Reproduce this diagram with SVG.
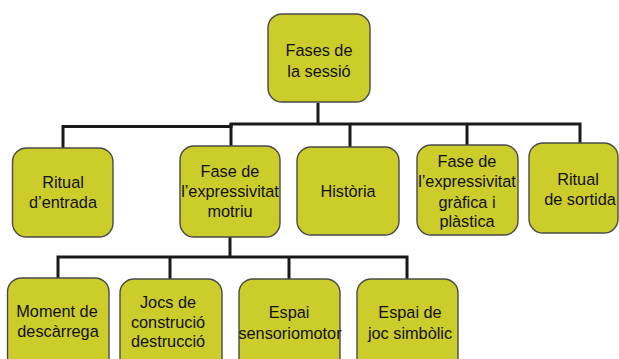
<svg xmlns="http://www.w3.org/2000/svg" width="619" height="359" viewBox="0 0 619 359">
<style>
.box{fill:#cccc2a;stroke:#4a4a4a;stroke-width:1.4}
.t{font-family:"Liberation Sans",Arial,sans-serif;font-size:16.3px;fill:#111;text-anchor:middle}
.c{fill:none;stroke:#1a1a1a;stroke-width:3;stroke-linejoin:miter;stroke-linecap:butt}
</style>
<rect width="619" height="359" fill="#fff"/>
<g id="connectors">
<path class="c" d="M63 148V126.5H231V124H580V143"/>
<path class="c" d="M318 103V124"/>
<path class="c" d="M231 124V146"/>
<path class="c" d="M350 124V147"/>
<path class="c" d="M467 124V145"/>
<path class="c" d="M58 278V257H407V279"/>
<path class="c" d="M230 237V257"/>
<path class="c" d="M170 257V279"/>
<path class="c" d="M289 257V279"/>
</g>
<g id="n-fases">
<rect class="box" x="268" y="14" width="102" height="88" rx="14"/>
<text class="t" x="319" y="56">Fases de</text>
<text class="t" x="319" y="77">la sessió</text>
</g>
<g id="n-ritual-entrada">
<rect class="box" x="12.5" y="148" width="100.5" height="89" rx="14"/>
<text class="t" x="63" y="188">Ritual</text>
<text class="t" x="63" y="208">d’entrada</text>
</g>
<g id="n-motriu">
<rect class="box" x="180" y="146" width="100" height="91" rx="14"/>
<text class="t" x="230" y="177">Fase de</text>
<text class="t" x="230" y="197">l’expressivitat</text>
<text class="t" x="230" y="217">motriu</text>
</g>
<g id="n-historia">
<rect class="box" x="297" y="147" width="102" height="88" rx="14"/>
<text class="t" x="348" y="197">Història</text>
</g>
<g id="n-grafica">
<rect class="box" x="417" y="145" width="101" height="90" rx="14"/>
<text class="t" x="467" y="167">Fase de</text>
<text class="t" x="467" y="187">l’expressivitat</text>
<text class="t" x="467" y="208">gràfica i</text>
<text class="t" x="467" y="227">plàstica</text>
</g>
<g id="n-ritual-sortida">
<rect class="box" x="529" y="143" width="89" height="90" rx="14"/>
<text class="t" x="578" y="185">Ritual</text>
<text class="t" x="580" y="205">de sortida</text>
</g>
<g id="n-descarrega">
<rect class="box" x="7.5" y="278" width="101.5" height="100" rx="14"/>
<text class="t" x="57" y="317">Moment de</text>
<text class="t" x="58" y="337">descàrrega</text>
</g>
<g id="n-jocs">
<rect class="box" x="120" y="279" width="102" height="100" rx="14"/>
<text class="t" x="168" y="308">Jocs de</text>
<text class="t" x="168" y="328">construció</text>
<text class="t" x="168" y="347">destrucció</text>
</g>
<g id="n-sensoriomotor">
<rect class="box" x="239" y="279" width="101" height="100" rx="14"/>
<text class="t" x="289" y="318">Espai</text>
<text class="t" x="290" y="339">sensoriomotor</text>
</g>
<g id="n-simbolic">
<rect class="box" x="357" y="279" width="101" height="100" rx="14"/>
<text class="t" x="410" y="318">Espai de</text>
<text class="t" x="410" y="339">joc simbòlic</text>
</g>
</svg>
